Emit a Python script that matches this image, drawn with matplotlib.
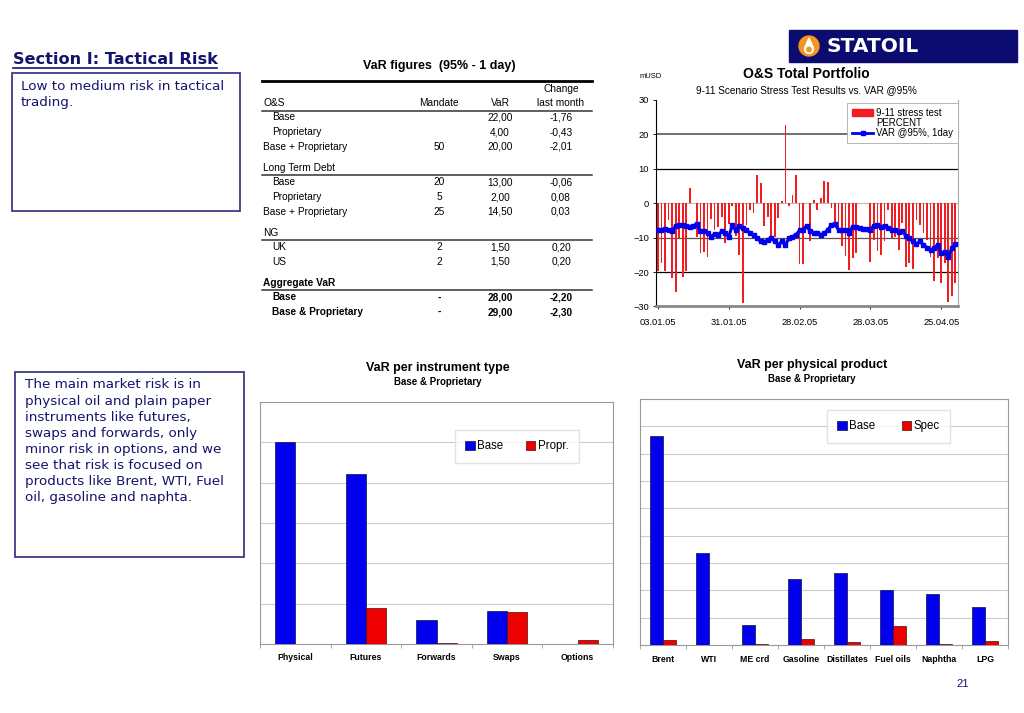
import numpy as np
import matplotlib
matplotlib.use("Agg")
import matplotlib.pyplot as plt
from matplotlib.patches import Rectangle, Circle, Patch, Polygon
from matplotlib.lines import Line2D

plt.rcParams['font.family'] = ['Liberation Sans', 'DejaVu Sans']

W, H = 1024, 713
NAVY = '#14146e'
BLUE = '#0000ee'
RED = '#ee0000'

# 9-11 stress test vs VaR, mUSD, trading days 03.01.05 - 29.04.05
stress = [-19.7, -17.4, -19.7, -4.8, -21.7, -25.9, -10.2, -21.5, -19.7, 4.4,
          0.0, -9.7, -14.4, -14.1, -15.5, -4.6, -7.7, -6.8, -4.0, -11.6,
          -6.0, -0.8, -9.5, -15.0, -29.0, -6.3, -2.0, -2.9, 8.1, 5.8,
          -6.7, -4.0, -9.7, -9.7, -4.4, 0.7, 22.8, -0.8, 2.4, 8.2,
          -17.6, -17.6, 0.0, -11.0, 1.0, -2.1, 1.4, 6.5, 6.1, -1.5,
          -6.0, -8.0, -12.4, -15.3, -19.5, -16.0, -14.5, 0.0, 0.0, 0.0,
          -17.2, -10.6, -14.0, -15.0, -11.0, -2.0, -10.0, -9.7, -13.5, -5.8,
          -18.6, -17.4, -19.2, -4.8, -6.3, -8.7, -10.8, -15.5, -22.6, -16.0,
          -23.2, -17.4, -28.6, -27.0, -23.2]
var95 = [-7.9, -7.9, -7.5, -7.9, -8.2, -6.5, -6.3, -6.3, -6.5, -6.8,
         -6.5, -6.1, -8.2, -8.0, -8.5, -9.7, -8.9, -9.2, -8.2, -8.7,
         -9.7, -6.4, -7.9, -6.5, -7.3, -7.7, -8.7, -9.2, -10.2, -11.1,
         -11.4, -10.6, -10.2, -11.1, -12.1, -11.1, -12.1, -10.2, -9.7, -9.2,
         -7.9, -7.7, -6.5, -8.2, -8.7, -8.5, -9.2, -8.7, -7.7, -6.3,
         -6.0, -7.7, -7.9, -7.7, -8.5, -6.8, -7.0, -7.3, -7.5, -7.5,
         -7.7, -6.5, -6.3, -6.8, -6.6, -7.1, -7.7, -7.9, -8.4, -8.0,
         -9.5, -10.2, -11.1, -11.8, -11.1, -12.1, -12.9, -13.6, -13.1, -12.1,
         -14.5, -14.3, -15.5, -13.1, -11.9]
date_ticks = ['03.01.05', '31.01.05', '28.02.05', '28.03.05', '25.04.05']

instruments = ['Physical', 'Futures', 'Forwards', 'Swaps', 'Options']
instr_base = [5.0, 4.21, 0.60, 0.83, 0.0]
instr_propr = [0.0, 0.89, 0.02, 0.80, 0.10]

products = ['Brent', 'WTI', 'ME crd', 'Gasoline', 'Distillates', 'Fuel oils', 'Naphtha', 'LPG']
prod_base = [7.63, 3.38, 0.75, 2.43, 2.62, 2.03, 1.86, 1.40]
prod_spec = [0.18, 0.0, 0.05, 0.22, 0.11, 0.68, 0.04, 0.15]

# VaR table
sections = ['O&S', 'Long Term Debt', 'NG', 'Aggregate VaR']
section_rows = [['Base', 'Proprietary', 'Base + Proprietary'],
                ['Base', 'Proprietary', 'Base + Proprietary'],
                ['UK', 'US'],
                ['Base', 'Base & Proprietary']]
mandates = [['', '', '50'], ['20', '5', '25'], ['2', '2'], ['-', '-']]
var_figs = [['22,00', '4,00', '20,00'], ['13,00', '2,00', '14,50'],
            ['1,50', '1,50'], ['28,00', '29,00']]
changes = [['-1,76', '-0,43', '-2,01'], ['-0,06', '0,08', '0,03'],
           ['0,20', '0,20'], ['-2,20', '-2,30']]

box_text1 = "Low to medium risk in tactical\ntrading."
box_text2 = ("The main market risk is in\nphysical oil and plain paper\n"
             "instruments like futures,\nswaps and forwards, only\n"
             "minor risk in options, and we\nsee that risk is focused on\n"
             "products like Brent, WTI, Fuel\noil, gasoline and naphta.")


def px_axes(fig, x0, y0, x1, y1):
    return fig.add_axes([x0 / W, 1 - y1 / H, (x1 - x0) / W, (y1 - y0) / H])


fig = plt.figure(figsize=(W / 100, H / 100), dpi=100)
bg = fig.add_axes([0, 0, 1, 1], zorder=-1)
bg.set_xlim(0, W)
bg.set_ylim(H, 0)
bg.axis('off')

# header / logo
bg.text(13, 60, 'Section I: Tactical Risk', fontsize=11.6, fontweight='bold',
        color=NAVY, family='DejaVu Sans', va='center')
bg.plot([13, 217], [68, 68], color=NAVY, lw=1.2)
bg.add_patch(Rectangle((789, 30), 228, 32, color='#0c0c70'))
bg.add_patch(Circle((809, 46), 10, color='#f5941e'))
bg.add_patch(Circle((809, 49), 4.5, color='white'))
bg.add_patch(Polygon([[805, 47], [813, 47], [809, 38]], color='white'))
bg.add_patch(Circle((809, 49.5), 2.2, color='#f5941e'))
bg.text(826, 46.5, 'STATOIL', fontsize=14.5, fontweight='bold', color='white',
        family='DejaVu Sans', va='center')

# text boxes
bg.add_patch(Rectangle((12, 73), 228, 138, fill=False, ec='#3c3c8c', lw=1.3))
bg.text(21, 79.5, box_text1, fontsize=9.7, color=NAVY, family='DejaVu Sans',
        va='top', linespacing=1.31)
bg.add_patch(Rectangle((15, 372), 229, 185, fill=False, ec='#3c3c8c', lw=1.3))
bg.text(25, 378.5, box_text2, fontsize=9.7, color=NAVY, family='DejaVu Sans',
        va='top', linespacing=1.31)
bg.text(963, 684, '21', fontsize=8, color=NAVY, ha='center', va='center')

# table
tfs = 7.3
bg.text(439, 66, 'VaR figures  (95% - 1 day)', fontsize=9, fontweight='bold',
        ha='center', va='center')
bg.plot([262, 592], [81, 81], color='black', lw=2)
bg.text(561, 89, 'Change', fontsize=tfs, ha='center', va='center')
for lab, xx in [('Mandate', 439), ('VaR', 500), ('last month', 561)]:
    bg.text(xx, 103, lab, fontsize=tfs, ha='center', va='center')
y = 103
for s, sec in enumerate(sections):
    last = s == len(sections) - 1
    w = 'bold' if last else 'normal'
    bg.text(263, y, sec, fontsize=tfs, va='center', fontweight=w)
    bg.plot([262, 592], [y + 7.5, y + 7.5], color='#333333', lw=1.1)
    ry = y + 14.5
    for k, lab in enumerate(section_rows[s]):
        indent = 272 if not lab.startswith('Base +') else 263
        bg.text(indent, ry, lab, fontsize=tfs, va='center', fontweight=w)
        bg.text(439, ry, mandates[s][k], fontsize=tfs, ha='center', va='center', fontweight=w)
        bg.text(500, ry, var_figs[s][k], fontsize=tfs, ha='center', va='center', fontweight=w)
        bg.text(561, ry, changes[s][k], fontsize=tfs, ha='center', va='center', fontweight=w)
        ry += 14.7
    y = ry - 14.7 + 21

# stress test chart
ax = px_axes(fig, 656, 100, 958, 306.5)
days = np.arange(len(stress))
ax.bar(days, stress, width=0.5, color='#f01e22', zorder=2)
ax.plot(days, var95, color=BLUE, lw=2.3, marker='s', ms=2.8, zorder=3)
ax.set_xlim(-0.55, len(stress) - 0.25)
ax.set_ylim(-30, 30)
ax.set_yticks(range(-30, 31, 10))
ax.set_xticks(days[::20])
ax.set_xticklabels(date_ticks)
ax.tick_params(labelsize=6.7, length=2, width=0.6, pad=3)
ax.tick_params(axis='x', pad=6)
for yy, c, lw in [(20, '#707070', 1.4), (10, 'black', 0.9), (0, '#bbbbbb', 0.8),
                  (-10, '#555555', 0.9), (-20, 'black', 0.9)]:
    ax.axhline(yy, color=c, lw=lw, zorder=1)
ax.spines['top'].set_visible(False)
ax.spines['right'].set_color('#aaaaaa')
ax.spines['bottom'].set_color('#888888')
ax.spines['bottom'].set_linewidth(2)
ax.spines['left'].set_linewidth(0.8)
handles = [Patch(color='#f01e22'), Line2D([], [], color='none'),
           Line2D([], [], color=BLUE, lw=2, marker='s', ms=2.5)]
leg = ax.legend(handles, ['9-11 stress test', 'PERCENT', 'VAR @95%, 1day'],
                loc='upper right', bbox_to_anchor=(1.0, 0.985), fontsize=6.9,
                fancybox=False, framealpha=1, edgecolor='#aaaaaa',
                labelspacing=0.0, handlelength=2.2, handletextpad=0.3,
                borderpad=0.5, borderaxespad=0)
leg.get_frame().set_linewidth(0.6)
bg.text(806, 74, 'O&S Total Portfolio', fontsize=10, fontweight='bold',
        ha='center', va='center')
bg.text(806, 90, '9-11 Scenario Stress Test Results vs. VAR @95%',
        fontsize=7.2, ha='center', va='center')
bg.text(640, 76, 'mUSD', fontsize=5.5, va='center')


def bar_panel(ax, cats, base, second, ymax, labels, pad):
    x = np.arange(len(cats))
    bw = 0.285
    ax.bar(x - bw / 2, base, width=bw, color=BLUE, ec='#101040', lw=0.5,
           zorder=3, label=labels[0])
    ax.bar(x + bw / 2, second, width=bw, color=RED, ec='#401010', lw=0.5,
           zorder=3, label=labels[1])
    ax.set_xlim(-0.5, len(cats) - 0.5)
    ax.set_ylim(0, ymax)
    ax.set_yticks(range(1, ymax))
    ax.yaxis.grid(True, color='#cccccc', lw=0.8, zorder=0)
    ax.tick_params(axis='y', length=0, labelleft=False)
    ax.set_xticks(x)
    ax.set_xticklabels(cats, fontsize=6.3, fontweight='bold')
    ax.set_xticks(np.arange(len(cats) + 1) - 0.5, minor=True)
    ax.tick_params(axis='x', which='major', length=0, pad=pad)
    ax.tick_params(axis='x', which='minor', length=3, color='#999999')
    for sp in ax.spines.values():
        sp.set_color('#999999')
        sp.set_linewidth(0.8)


ax1 = px_axes(fig, 260, 401.7, 613, 644.3)
bar_panel(ax1, instruments, instr_base, instr_propr, 6, ['Base', 'Propr.'], 6)
l1 = ax1.legend(loc='upper left', bbox_to_anchor=(195 / 353, 0.883), ncol=2,
                fontsize=8.3, fancybox=False, edgecolor='#dddddd',
                handlelength=0.8, handleheight=0.8, handletextpad=0.2,
                columnspacing=2.0, borderpad=0.9, borderaxespad=0)
bg.text(438, 368, 'VaR per instrument type', fontsize=9, fontweight='bold',
        ha='center', va='center')
bg.text(438, 382, 'Base & Proprietary', fontsize=7, fontweight='bold',
        ha='center', va='center')

ax2 = px_axes(fig, 640, 399, 1008, 645)
bar_panel(ax2, products, prod_base, prod_spec, 9, ['Base', 'Spec'], 7)
l2 = ax2.legend(loc='upper left', bbox_to_anchor=(187 / 368, 0.955), ncol=2,
                fontsize=8.3, fancybox=False, edgecolor='#dddddd',
                handlelength=0.8, handleheight=0.8, handletextpad=0.2,
                columnspacing=2.3, borderpad=0.9, borderaxespad=0)
bg.text(812, 365, 'VaR per physical product', fontsize=9, fontweight='bold',
        ha='center', va='center')
bg.text(812, 379, 'Base & Proprietary', fontsize=7, fontweight='bold',
        ha='center', va='center')

fig.savefig('out.png', dpi=100)
